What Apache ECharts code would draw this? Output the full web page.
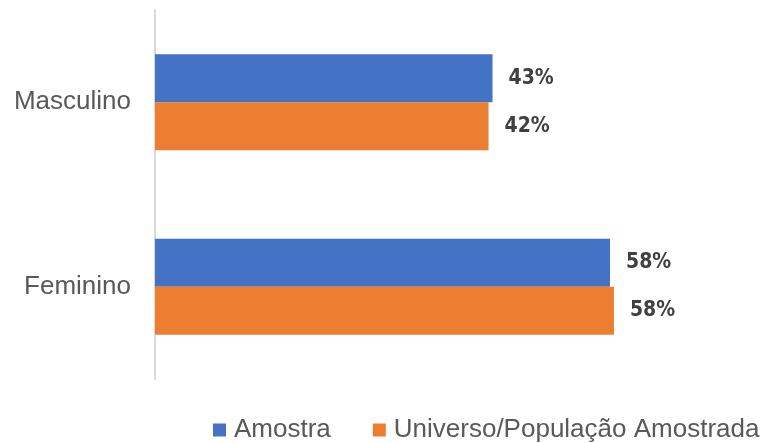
<!DOCTYPE html>
<html>
<head>
<meta charset="utf-8">
<script src="https://cdn.jsdelivr.net/npm/echarts@6/dist/echarts.min.js"></script>
<style>
html,body{margin:0;padding:0;background:#fff;}
#chart{width:774px;height:443px;}
</style>
</head>
<body>
<div id="chart"></div>
<script>
const categories = ['Masculino', 'Feminino'];
const seriesNames = ['Amostra', 'Universo/População Amostrada'];
const amostra = [42.8, 57.7];
const universo = [42.3, 58.2];

const chart = echarts.init(document.getElementById('chart'), null, {renderer: 'canvas'});
const labelCfg = {
  show: true,
  position: 'right',
  distance: 16,
  formatter: p => Math.round(p.value) + '%',
  fontFamily: '"DejaVu Sans Condensed", sans-serif',
  fontWeight: 'bold',
  fontSize: 21,
  color: '#404040'
};
chart.setOption({
  animation: false,
  backgroundColor: '#fff',
  grid: {left: 155, top: 10, width: 552, height: 369, containLabel: false},
  xAxis: {type: 'value', min: 0, max: 70, show: false},
  yAxis: {
    type: 'category',
    data: categories,
    inverse: true,
    axisLine: {show: true, lineStyle: {color: '#d9d9d9', width: 2}},
    axisTick: {show: false},
    axisLabel: {margin: 24, fontSize: 26, color: '#595959', fontFamily: '"Liberation Sans", Arial, sans-serif'}
  },
  legend: {
    data: seriesNames,
    left: 208,
    top: 412,
    icon: 'rect',
    itemWidth: 13,
    itemHeight: 13,
    itemGap: 42,
    textStyle: {fontSize: 26, lineHeight: 26, padding: [0, 0, 0, 3], color: '#595959', fontFamily: '"Liberation Sans", Arial, sans-serif'}
  },
  series: [
    {name: seriesNames[0], type: 'bar', data: amostra, barWidth: 48, barGap: '0%', itemStyle: {color: '#4472C4'}, label: labelCfg},
    {name: seriesNames[1], type: 'bar', data: universo, barWidth: 48, barGap: '0%', itemStyle: {color: '#ED7D31'}, label: labelCfg}
  ]
});
</script>
</body>
</html>
